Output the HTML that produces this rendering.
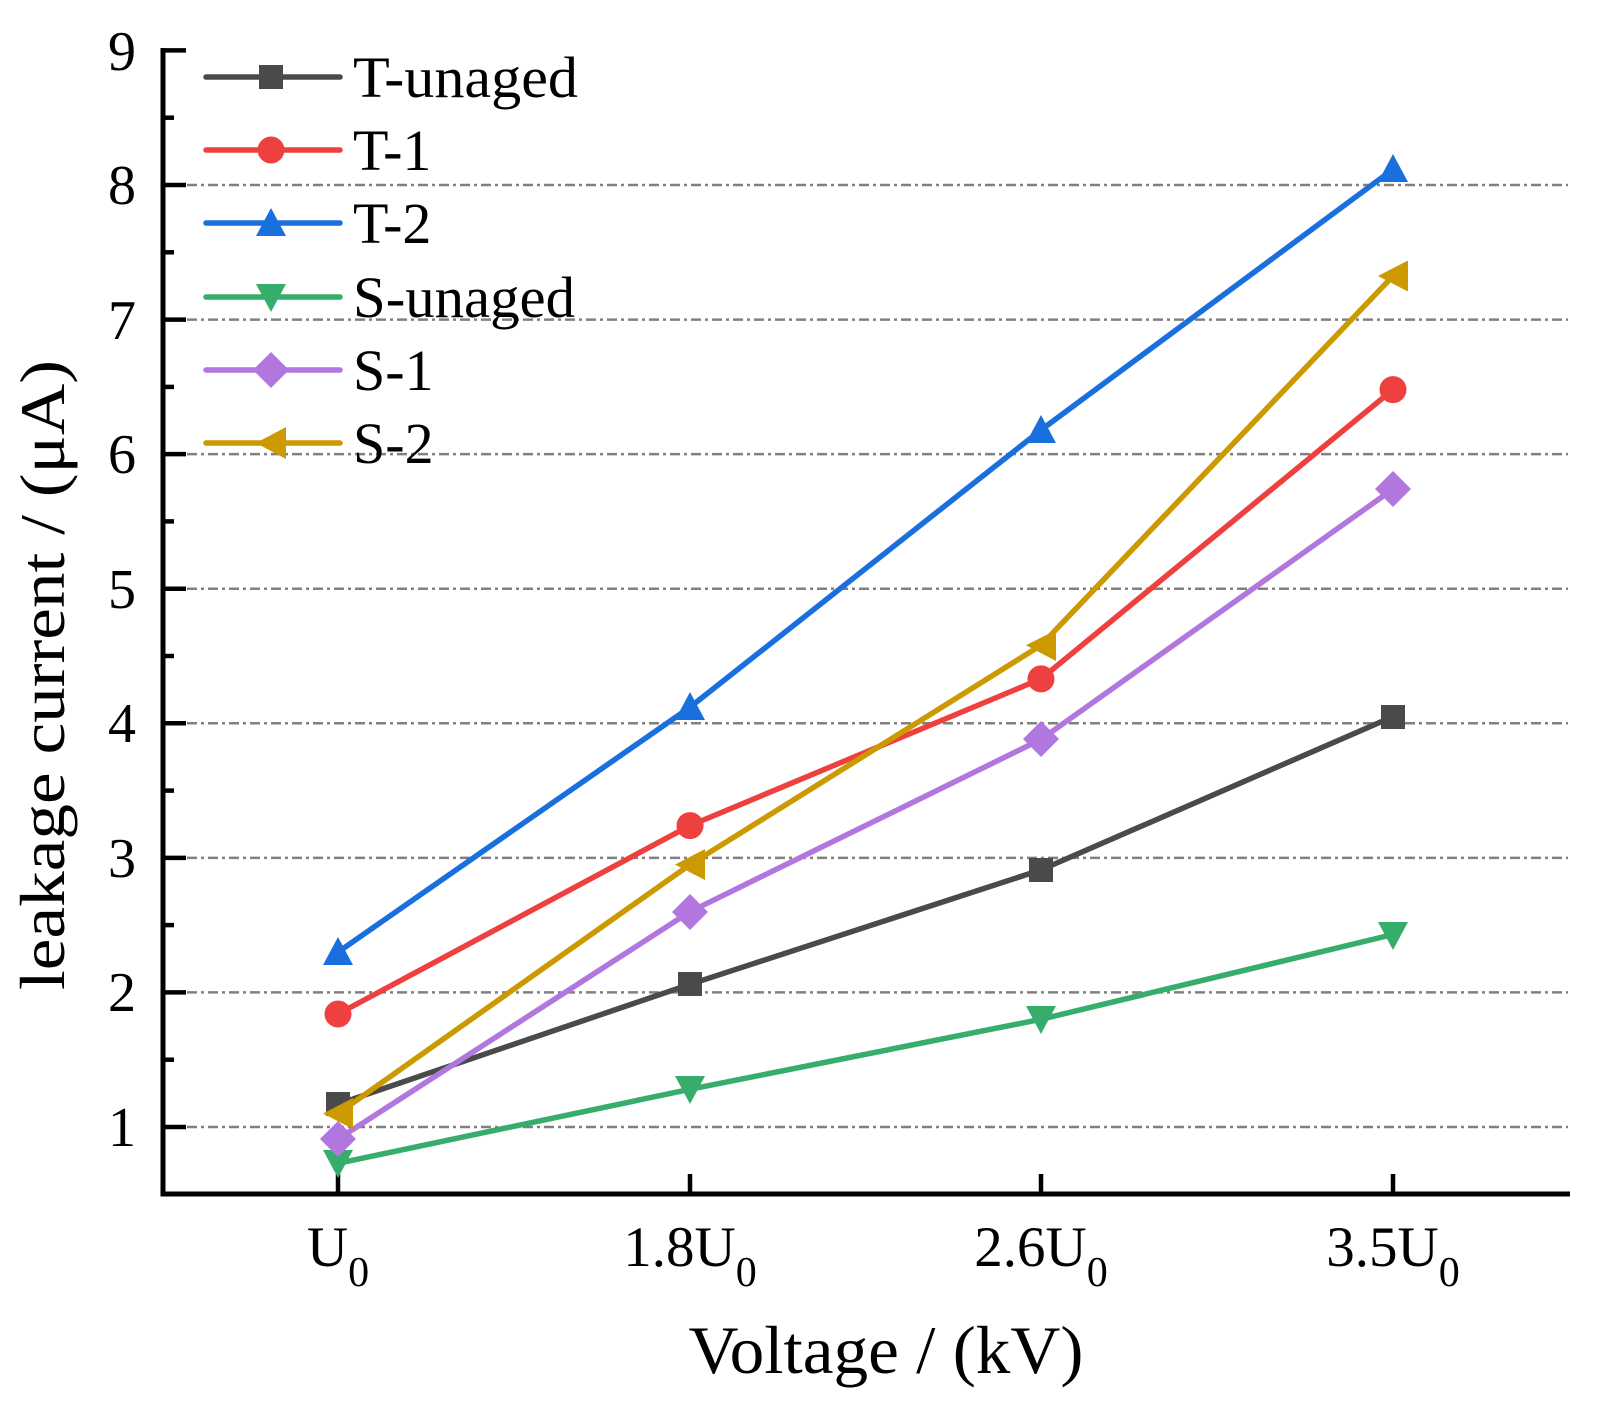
<!DOCTYPE html>
<html><head><meta charset="utf-8"><style>html,body{margin:0;padding:0;background:#fff}svg{display:block}</style></head>
<body>
<svg width="1615" height="1408" viewBox="0 0 1615 1408" xmlns="http://www.w3.org/2000/svg" font-family="'Liberation Serif', serif">
<g stroke="#808080" stroke-width="2.5" stroke-dasharray="10 4 3 4">
<line x1="166" y1="1127" x2="1568" y2="1127"/>
<line x1="166" y1="992.4" x2="1568" y2="992.4"/>
<line x1="166" y1="857.9" x2="1568" y2="857.9"/>
<line x1="166" y1="723.3" x2="1568" y2="723.3"/>
<line x1="166" y1="588.7" x2="1568" y2="588.7"/>
<line x1="166" y1="454.1" x2="1568" y2="454.1"/>
<line x1="166" y1="319.6" x2="1568" y2="319.6"/>
<line x1="166" y1="185" x2="1568" y2="185"/>
</g>
<g stroke="#000" stroke-width="5" fill="none">
<line x1="163" y1="48" x2="163" y2="1196.5"/>
<line x1="160.5" y1="1194" x2="1570" y2="1194"/>
</g>
<g stroke="#000" stroke-width="4.5">
<line x1="163" y1="1127" x2="186" y2="1127"/><line x1="163" y1="992.4" x2="186" y2="992.4"/><line x1="163" y1="857.9" x2="186" y2="857.9"/><line x1="163" y1="723.3" x2="186" y2="723.3"/><line x1="163" y1="588.7" x2="186" y2="588.7"/><line x1="163" y1="454.1" x2="186" y2="454.1"/><line x1="163" y1="319.6" x2="186" y2="319.6"/><line x1="163" y1="185" x2="186" y2="185"/><line x1="163" y1="50.4" x2="186" y2="50.4"/>
<line x1="163" y1="1059.7" x2="174" y2="1059.7"/><line x1="163" y1="925.1" x2="174" y2="925.1"/><line x1="163" y1="790.6" x2="174" y2="790.6"/><line x1="163" y1="656" x2="174" y2="656"/><line x1="163" y1="521.4" x2="174" y2="521.4"/><line x1="163" y1="386.9" x2="174" y2="386.9"/><line x1="163" y1="252.3" x2="174" y2="252.3"/><line x1="163" y1="117.7" x2="174" y2="117.7"/>
<line x1="338" y1="1194" x2="338" y2="1174"/><line x1="690" y1="1194" x2="690" y2="1174"/><line x1="1041" y1="1194" x2="1041" y2="1174"/><line x1="1393" y1="1194" x2="1393" y2="1174"/>
</g>
<g font-size="56" text-anchor="end" fill="#000">
<text x="136" y="1146">1</text><text x="136" y="1011">2</text><text x="136" y="877">3</text><text x="136" y="742">4</text><text x="136" y="608">5</text><text x="136" y="473">6</text><text x="136" y="339">7</text><text x="136" y="204">8</text><text x="136" y="70">9</text>
</g>
<g font-size="57" fill="#000" text-anchor="middle">
<text x="338" y="1266">U<tspan font-size="42" dy="20">0</tspan></text>
<text x="690" y="1266">1.8U<tspan font-size="42" dy="20">0</tspan></text>
<text x="1041" y="1266">2.6U<tspan font-size="42" dy="20">0</tspan></text>
<text x="1393" y="1266">3.5U<tspan font-size="42" dy="20">0</tspan></text>
</g>
<text x="886" y="1373" font-size="68" text-anchor="middle" textLength="395" lengthAdjust="spacingAndGlyphs">Voltage / (kV)</text>
<text transform="translate(64,675) rotate(-90)" font-size="64" text-anchor="middle" textLength="630" lengthAdjust="spacingAndGlyphs">leakage current / (μA)</text>
<g fill="none" stroke-width="5.5" stroke-linejoin="round">
<polyline stroke="#4a4a4a" points="338,1104.1 690,984.3 1041,869.9 1393,716.6"/>
<polyline stroke="#ef4040" points="338,1014 690,825.6 1041,678.9 1393,389.6"/>
<polyline stroke="#1a6fdf" points="338,952.1 690,707.2 1041,430 1393,169.3"/>
<polyline stroke="#37ad6b" points="338,1163.3 690,1089.3 1041,1019.3 1393,934.5"/>
<polyline stroke="#b177de" points="338,1139.1 690,911.7 1041,739.4 1393,489.1"/>
<polyline stroke="#cc9900" points="338,1113.5 690,864.6 1041,645.3 1393,276"/>
</g>
<g fill="#4a4a4a"><rect x="326" y="1092" width="24" height="24"/><rect x="678" y="972" width="24" height="24"/><rect x="1029" y="858" width="24" height="24"/><rect x="1381" y="705" width="24" height="24"/></g>
<g fill="#ef4040"><circle cx="338" cy="1014" r="13.5"/><circle cx="690" cy="825.6" r="13.5"/><circle cx="1041" cy="678.9" r="13.5"/><circle cx="1393" cy="389.6" r="13.5"/></g>
<g fill="#1a6fdf"><polygon points="338,937 353,965 323,965"/><polygon points="690,692 705,720 675,720"/><polygon points="1041,415 1056,443 1026,443"/><polygon points="1393,154 1408,182 1378,182"/></g>
<g fill="#37ad6b"><polygon points="338,1178 353,1150 323,1150"/><polygon points="690,1104 705,1076 675,1076"/><polygon points="1041,1034 1056,1006 1026,1006"/><polygon points="1393,950 1408,922 1378,922"/></g>
<g fill="#b177de"><polygon points="338,1121 356,1139 338,1157 320,1139"/><polygon points="690,894 708,912 690,930 672,912"/><polygon points="1041,721 1059,739 1041,757 1023,739"/><polygon points="1393,471 1411,489 1393,507 1375,489"/></g>
<g fill="#cc9900"><polygon points="323,1113.5 353,1098 353,1129"/><polygon points="675,864.6 705,849 705,880"/><polygon points="1026,645.3 1056,630 1056,661"/><polygon points="1378,276 1408,260.5 1408,291.5"/></g>
<g stroke-width="5.5" stroke-linecap="round">
<line x1="206" y1="77" x2="340" y2="77" stroke="#4a4a4a"/>
<line x1="206" y1="150" x2="340" y2="150" stroke="#ef4040"/>
<line x1="206" y1="223" x2="340" y2="223" stroke="#1a6fdf"/>
<line x1="206" y1="297" x2="340" y2="297" stroke="#37ad6b"/>
<line x1="206" y1="370" x2="340" y2="370" stroke="#b177de"/>
<line x1="206" y1="443" x2="340" y2="443" stroke="#cc9900"/>
</g>
<rect x="259" y="65" width="24" height="24" fill="#4a4a4a"/>
<circle cx="271" cy="150" r="13.5" fill="#ef4040"/>
<polygon points="271,208 286,236 256,236" fill="#1a6fdf"/>
<polygon points="271,312 286,284 256,284" fill="#37ad6b"/>
<polygon points="271,352 289,370 271,388 253,370" fill="#b177de"/>
<polygon points="256,443 286,427 286,459" fill="#cc9900"/>
<g font-size="58" fill="#000">
<text x="353" y="97" textLength="225" lengthAdjust="spacingAndGlyphs">T-unaged</text>
<text x="353" y="170">T-1</text>
<text x="353" y="243">T-2</text>
<text x="353" y="317" textLength="222" lengthAdjust="spacingAndGlyphs">S-unaged</text>
<text x="353" y="390">S-1</text>
<text x="353" y="463">S-2</text>
</g>
</svg>
</body></html>
